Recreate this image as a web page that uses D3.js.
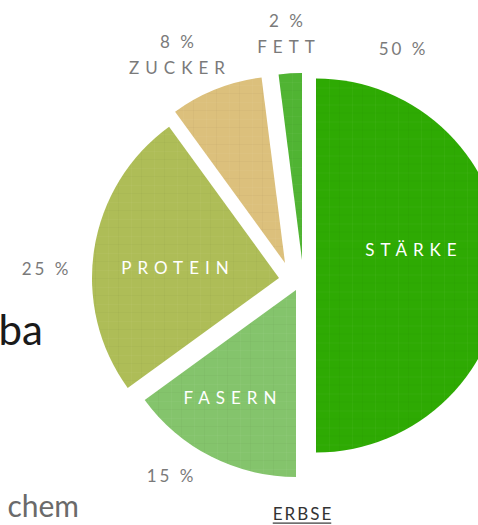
<!DOCTYPE html>
<html><head><meta charset="utf-8">
<script src="https://cdn.jsdelivr.net/npm/d3@7"></script>
<style>
html,body{margin:0;padding:0;background:#fff;overflow:hidden}
svg{display:block}
</style></head>
<body>
<svg id="chart" width="478" height="525"></svg>
<script>
// ---- data ----
const categories = ["STÄRKE", "FASERN", "PROTEIN", "ZUCKER", "FETT"];
const values = [50, 15, 25, 8, 2];
const percentLabels = ["50 %", "15 %", "25 %", "8 %", "2 %"];
const sliceColors = ["#2eaa03", "#84c46c", "#aebd57", "#dcc07c", "#50b433"];
const titleText = "ERBSE";

// ---- layout ----
const W = 478, H = 525;
const center = [300, 270];
const radius = 187;
// explode shift of each slice (px)
const shifts = [[16, -4.5], [-4, 20], [-21, 8], [-15, -7], [2, -10]];
// inner label positions relative to the slice apex
const innerPos = [[95, -10], [-66, 114], [-104, -4], null, null];
// outer percent label positions (absolute)
const outerPos = [[402, 55], [170, 482], [45, 275], [177, 48], [286, 27]];
// outer name labels (small slices)
const outerName = [null, null, null, [177, 74], [286, 53]];

const svg = d3.select("#chart");

// subtle linen texture
const defs = svg.append("defs");
const pat = defs.append("pattern").attr("id", "linen")
  .attr("patternUnits", "userSpaceOnUse").attr("width", 23).attr("height", 17);
pat.append("rect").attr("x", 0).attr("y", 0).attr("width", 23).attr("height", 1)
  .attr("fill", "#000").attr("opacity", 0.025);
pat.append("rect").attr("x", 0).attr("y", 9).attr("width", 23).attr("height", 1)
  .attr("fill", "#fff").attr("opacity", 0.03);
pat.append("rect").attr("x", 0).attr("y", 0).attr("width", 1).attr("height", 17)
  .attr("fill", "#000").attr("opacity", 0.022);
pat.append("rect").attr("x", 13).attr("y", 0).attr("width", 1).attr("height", 17)
  .attr("fill", "#fff").attr("opacity", 0.03);

const pie = d3.pie().sort(null).value(d => d).startAngle(0).endAngle(2 * Math.PI);
const arcs = pie(values);
const arc = d3.arc().innerRadius(0).outerRadius(radius);

const g = svg.append("g").attr("transform", `translate(${center[0]},${center[1]})`);

const slices = g.selectAll("g.slice").data(arcs).enter().append("g")
  .attr("class", "slice")
  .attr("transform", (d, i) => `translate(${shifts[i][0]},${shifts[i][1]})`);

slices.append("path").attr("d", arc).attr("fill", (d, i) => sliceColors[i]);
slices.append("path").attr("d", arc).attr("fill", "url(#linen)");

const innerFont = "Lato, 'Noto Sans', sans-serif";
slices.filter((d, i) => innerPos[i]).append("text")
  .attr("x", (d, i) => innerPos[i][0] + 3)
  .attr("y", (d, i) => innerPos[i][1])
  .attr("text-anchor", "middle")
  .attr("fill", "#fff")
  .attr("font-family", innerFont)
  .attr("font-size", 17)
  .attr("letter-spacing", 6)
  .text((d, i) => categories[i]);

// outer percent labels
svg.selectAll("text.pct").data(arcs).enter().append("text")
  .attr("class", "pct")
  .attr("x", (d, i) => outerPos[i][0] + 1.5)
  .attr("y", (d, i) => outerPos[i][1])
  .attr("text-anchor", "middle")
  .attr("fill", "#7a7a7a")
  .attr("font-family", innerFont)
  .attr("font-size", 17)
  .attr("letter-spacing", 3)
  .text((d, i) => percentLabels[i]);

svg.selectAll("text.oname").data(arcs.filter((d, i) => outerName[i])).enter().append("text")
  .attr("class", "oname")
  .attr("x", d => outerName[d.index][0] + 3)
  .attr("y", d => outerName[d.index][1])
  .attr("text-anchor", "middle")
  .attr("fill", "#7a7a7a")
  .attr("font-family", innerFont)
  .attr("font-size", 17)
  .attr("letter-spacing", 6)
  .text(d => categories[d.index]);

// page fragments
svg.append("text").attr("x", 43).attr("y", 345).attr("text-anchor", "end")
  .attr("fill", "#1a1a1a").attr("font-family", innerFont).attr("font-size", 42)
  .text("ba");
svg.append("text").attr("x", 79).attr("y", 517).attr("text-anchor", "end")
  .attr("fill", "#6a6a6a").attr("font-family", innerFont).attr("font-size", 30)
  .text("chem");

const t = svg.append("text").attr("x", 303).attr("y", 520).attr("text-anchor", "middle")
  .attr("fill", "#333").attr("font-family", innerFont).attr("font-size", 17)
  .attr("letter-spacing", 2).text(titleText);
const bb = t.node().getBBox();
svg.append("rect").attr("x", bb.x).attr("y", 522.5).attr("width", bb.width - 2).attr("height", 1.2).attr("fill", "#333");
</script>
</body></html>
